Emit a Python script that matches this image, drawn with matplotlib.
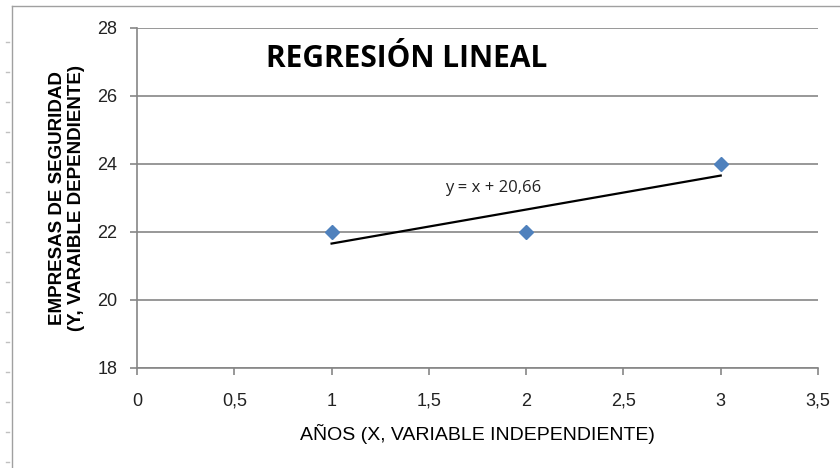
import matplotlib.pyplot as plt
from matplotlib.lines import Line2D
from matplotlib.ticker import FuncFormatter

# datos
anios = [1, 2, 3]
empresas = [22, 22, 24]
pendiente = 1.0
intercepto = 20.66
x_ticks = [0, 0.5, 1, 1.5, 2, 2.5, 3, 3.5]
y_ticks = [18, 20, 22, 24, 26, 28]

narrow = ['Liberation Sans Narrow', 'Liberation Sans', 'DejaVu Sans']
gris = '#868686'

fig = plt.figure(figsize=(8.4, 4.68), dpi=100)
ax = fig.add_axes([137 / 840, 1 - 368 / 468, (818 - 137) / 840, (368 - 28) / 468])

# linea de tendencia
x_tend = [min(anios), max(anios)]
y_tend = [pendiente * x + intercepto for x in x_tend]
ax.plot(x_tend, y_tend, color='black', lw=1.6, zorder=3)
ax.plot(anios, empresas, linestyle='none', marker='D', ms=7.5,
        color='#4F81BD', zorder=4)

ax.set_xlim(0, 3.5)
ax.set_ylim(18, 28)
ax.set_xticks(x_ticks)
ax.set_yticks(y_ticks)
ax.xaxis.set_major_formatter(FuncFormatter(lambda v, p: f'{v:g}'.replace('.', ',')))
ax.grid(axis='y', color=gris, lw=1.2)
ax.set_axisbelow(True)
for s in ['top', 'right']:
    ax.spines[s].set_visible(False)
for s in ['left', 'bottom']:
    ax.spines[s].set_color(gris)
    ax.spines[s].set_linewidth(1.2)
ax.tick_params(axis='both', color=gris, length=5, width=1.2, labelsize=13)
ax.tick_params(axis='x', pad=13)
ax.tick_params(axis='y', pad=9)
for lbl in ax.get_xticklabels() + ax.get_yticklabels():
    lbl.set_fontfamily(narrow)
    lbl.set_color('#222222')

ax.set_xlabel('AÑOS (X, VARIABLE INDEPENDIENTE)', family=narrow, fontsize=14,
              labelpad=10)
ax.set_ylabel('EMPRESAS DE SEGURIDAD\n(Y, VARAIBLE DEPENDIENTE)', family=narrow,
              fontsize=13.5, fontweight='bold', labelpad=9, linespacing=1.15)

ax.text(0.665, 28 - 0.9, 'REGRESIÓN LINEAL', fontsize=21.5, fontweight='bold',
        family=['Open Sans', 'DejaVu Sans'], va='center', ha='left')
ax.text(1.585, 23.3, 'y = x + 20,66', fontsize=12,
        family=['Open Sans', 'DejaVu Sans'], va='center', ha='left', color='#222222')

# borde del grafico
borde = '#a0a0a0'
fig.add_artist(Line2D([12 / 840, 1], [1 - 6 / 468, 1 - 6 / 468],
                      transform=fig.transFigure, color=borde, lw=1))
fig.add_artist(Line2D([12 / 840, 12 / 840], [0, 1 - 6 / 468],
                      transform=fig.transFigure, color=borde, lw=1))
for k in range(15):
    yy = 1 - (42 + 30 * k) / 468
    fig.add_artist(Line2D([6 / 840, 9 / 840], [yy, yy],
                          transform=fig.transFigure, color='#c0c0c0', lw=1))

fig.savefig('out.png', dpi=100)
